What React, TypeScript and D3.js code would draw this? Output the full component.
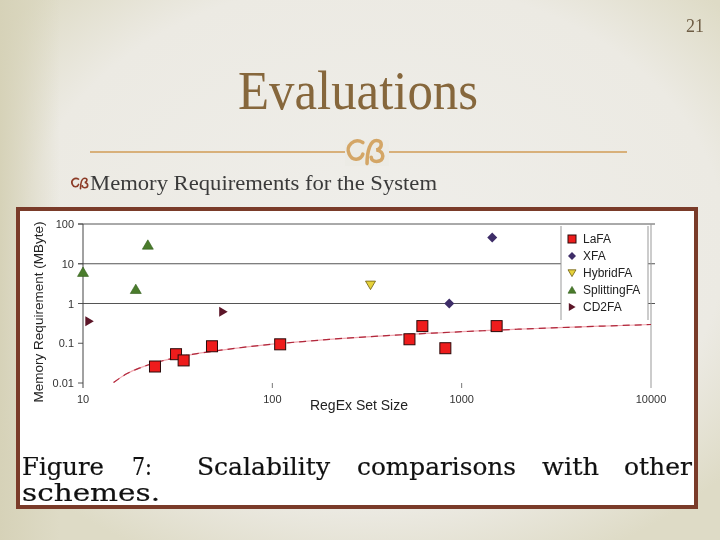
import * as d3 from 'd3';

// LaFA measurements
const lafaX = [24, 31, 34, 48, 110, 530, 620, 820, 1530];
const lafaY = [0.026, 0.053, 0.037, 0.084, 0.094, 0.126, 0.27, 0.075, 0.27];
// XFA
const xfaX = [1450, 860];
const xfaY = [46, 1.0];
// HybridFA
const hybridX = [330];
const hybridY = [2.9];
// SplittingFA
const splitX = [10, 22, 19];
const splitY = [6.2, 30, 2.3];
// CD2FA
const cd2X = [10.8, 55];
const cd2Y = [0.36, 0.62];
// LaFA trend line
const trendX = [14.5, 17, 20, 25, 30, 40, 50, 70, 100, 150, 200, 300, 500, 700, 1000, 1500, 2000, 3000, 5000, 7000, 10000];
const trendY = [0.0103, 0.017, 0.024, 0.034, 0.042, 0.055, 0.064, 0.079, 0.095, 0.112, 0.125, 0.143, 0.165, 0.18, 0.195, 0.213, 0.226, 0.243, 0.266, 0.28, 0.296];

const xTicks = [10, 100, 1000, 10000];
const yTicks = [100, 10, 1, 0.1, 0.01];
const yTickLabels = ['100', '10', '1', '0.1', '0.01'];
const gridValues = [100, 10, 1];

const legendNames = ['LaFA', 'XFA', 'HybridFA', 'SplittingFA', 'CD2FA'];
const legendColors = ['#ee1c1c', '#3e2d68', '#e6d23a', '#4a7c2c', '#5c1628'];

const captionWords = ['Figure', '7:', 'Scalability', 'comparisons', 'with', 'other'];
const captionX = [22, 132, 197, 357, 542, 624];
const captionW = [82, 20, 133, 159, 57, 68];

const sansFont = "'Liberation Sans', Arial, sans-serif";
const serifFont = "'Liberation Serif', 'Times New Roman', serif";
const paperFont = "'DejaVu Serif', serif";

function Swirl({ x, y, s, color }: { x: number; y: number; s: number; color: string }) {
  return (
    <g transform={`translate(${x},${y}) scale(${s})`} fill="none" stroke={color} strokeWidth={3.4} strokeLinecap="round">
      <path d="M -3,-8 C -11,-13 -20,-5 -16,3 C -13,10 -5,9 -3,3" />
      <path d="M 1,12 C 1,0 4,-10 10,-10 C 16,-10 16,-3 10,-1 C 18,0 18,10 10,10 C 7,10 5,8 5,6" />
    </g>
  );
}

function marker(kind: string, cx: number, cy: number, size: number, color: string, key: string | number) {
  const h = size / 2;
  if (kind === 'square') {
    return <rect key={key} x={cx - h} y={cy - h} width={size} height={size} fill={color} stroke="#2a0a0a" strokeWidth={1} />;
  }
  if (kind === 'diamond') {
    return <path key={key} d={`M${cx},${cy - h}L${cx + h},${cy}L${cx},${cy + h}L${cx - h},${cy}Z`} fill={color} />;
  }
  if (kind === 'down') {
    return <path key={key} d={`M${cx - h},${cy - h * 0.8}L${cx + h},${cy - h * 0.8}L${cx},${cy + h * 0.9}Z`} fill={color} stroke="#6b5a10" strokeWidth={0.8} />;
  }
  if (kind === 'up') {
    return <path key={key} d={`M${cx - h},${cy + h * 0.8}L${cx + h},${cy + h * 0.8}L${cx},${cy - h * 0.9}Z`} fill={color} stroke="#2f5a18" strokeWidth={0.6} />;
  }
  return <path key={key} d={`M${cx - h * 0.8},${cy - h}L${cx + h * 0.9},${cy}L${cx - h * 0.8},${cy + h}Z`} fill={color} />;
}

export default function App() {
  const x = d3.scaleLog().domain([10, 10000]).range([83, 651]);
  const y = d3.scaleLog().domain([0.01, 100]).range([383, 224]);

  const trendData = trendX.map((v, i) => [v, trendY[i]] as [number, number]);
  const trendLine = d3.line<[number, number]>()
    .x(d => x(d[0]))
    .y(d => y(d[1]))
    .curve(d3.curveMonotoneX)(trendData) || '';

  const series = [
    { kind: 'square', xs: lafaX, ys: lafaY, size: 11, color: legendColors[0] },
    { kind: 'diamond', xs: xfaX, ys: xfaY, size: 10, color: legendColors[1] },
    { kind: 'down', xs: hybridX, ys: hybridY, size: 10, color: legendColors[2] },
    { kind: 'up', xs: splitX, ys: splitY, size: 11, color: legendColors[3] },
    { kind: 'right', xs: cd2X, ys: cd2Y, size: 10, color: legendColors[4] },
  ];

  return (
    <svg width={720} height={540} style={{ position: 'fixed', left: 0, top: 0 }}>
      <defs>
        <radialGradient id="slide-bg" cx="52%" cy="45%" r="65%">
          <stop offset="0%" stopColor="#efeeea" />
          <stop offset="75%" stopColor="#eceae3" />
          <stop offset="100%" stopColor="#dedbc6" />
        </radialGradient>
        <linearGradient id="left-fade" x1="0" y1="0" x2="1" y2="0">
          <stop offset="0%" stopColor="#d6d2b8" stopOpacity={1} />
          <stop offset="100%" stopColor="#d6d2b8" stopOpacity={0} />
        </linearGradient>
      </defs>

      {/* slide background */}
      <rect width={720} height={540} fill="url(#slide-bg)" />
      <rect width={60} height={540} fill="url(#left-fade)" />

      <text x={704} y={32} textAnchor="end" fontFamily={serifFont} fontSize={18} fill="#6e5d44">21</text>

      <text x={358} y={109} textAnchor="middle" fontFamily={serifFont} fontSize={54}
        textLength={240} lengthAdjust="spacingAndGlyphs" fill="#86673c">Evaluations</text>

      <line x1={90} x2={627} y1={152} y2={152} stroke="#d8b07a" strokeWidth={2} />
      <rect x={345} y={140} width={44} height={26} fill="#ecebe5" />
      <Swirl x={366} y={151} s={1.05} color="#d4a666" />

      <Swirl x={80} y={183} s={0.48} color="#8c3b26" />
      <text x={90} y={190} fontFamily={serifFont} fontSize={21} fill="#3a3a3a"
        textLength={347} lengthAdjust="spacingAndGlyphs">Memory Requirements for the System</text>

      {/* figure box */}
      <rect x={18} y={209} width={678} height={298} fill="#ffffff" stroke="#7a3b29" strokeWidth={4} />

      {/* gridlines */}
      {gridValues.map(v => (
        <line key={`g${v}`} x1={78} x2={655} y1={y(v)} y2={y(v)} stroke="#555" strokeWidth={1} />
      ))}
      {yTicks.map(v => (
        <line key={`yt${v}`} x1={78} x2={83} y1={y(v)} y2={y(v)} stroke="#555" strokeWidth={1} />
      ))}
      <line x1={x(10)} x2={x(10)} y1={y(100)} y2={388} stroke="#444" strokeWidth={1} />
      <line x1={x(10000)} x2={x(10000)} y1={y(100)} y2={388} stroke="#999" strokeWidth={1} />
      {[100, 1000].map(v => (
        <line key={`xt${v}`} x1={x(v)} x2={x(v)} y1={y(0.01)} y2={388} stroke="#777" strokeWidth={1} />
      ))}

      {/* tick labels */}
      {yTicks.map((v, i) => (
        <text key={`yl${v}`} x={74} y={y(v) + 4} textAnchor="end" fontFamily={sansFont} fontSize={11} fill="#333">{yTickLabels[i]}</text>
      ))}
      {xTicks.map(v => (
        <text key={`xl${v}`} x={x(v)} y={403} textAnchor="middle" fontFamily={sansFont} fontSize={11} fill="#333">{v}</text>
      ))}

      <text x={359} y={410} textAnchor="middle" fontFamily={sansFont} fontSize={14} fill="#222">RegEx Set Size</text>
      <text transform="translate(43,312) rotate(-90)" textAnchor="middle" fontFamily={sansFont} fontSize={13.5} fill="#222">
        Memory Requirement (MByte)
      </text>

      {/* legend */}
      <rect x={561} y={226} width={87} height={94} fill="#ffffff" />
      <line x1={561} x2={561} y1={226} y2={320} stroke="#999" />
      <line x1={648} x2={648} y1={226} y2={320} stroke="#999" />
      {series.map((s, i) => (
        <g key={`lg${i}`}>
          {marker(s.kind, 572, 239 + i * 17, 8, s.color, 'm')}
          <text x={583} y={243 + i * 17} fontFamily={sansFont} fontSize={12} fill="#222">{legendNames[i]}</text>
        </g>
      ))}

      {/* trend line */}
      <path d={trendLine} fill="none" stroke="#f0a8b0" strokeWidth={1.2} />
      <path d={trendLine} fill="none" stroke="#b0283c" strokeWidth={1.2} strokeDasharray="7,5" />

      {/* points */}
      {series.map((s, si) => (
        <g key={`s${si}`}>
          {s.xs.map((v, i) => marker(s.kind, x(v), y(s.ys[i]), s.size, s.color, i))}
        </g>
      ))}

      {/* caption */}
      {captionWords.map((w, i) => (
        <text key={`c${i}`} x={captionX[i]} y={475} fontFamily={paperFont} fontSize={23.5} fill="#111"
          stroke="#111" strokeWidth={0.2} textLength={captionW[i]} lengthAdjust="spacingAndGlyphs">{w}</text>
      ))}
      <text x={22} y={501} fontFamily={paperFont} fontSize={23.5} fill="#111" stroke="#111" strokeWidth={0.2}
        textLength={138} lengthAdjust="spacingAndGlyphs">schemes.</text>
    </svg>
  );
}
